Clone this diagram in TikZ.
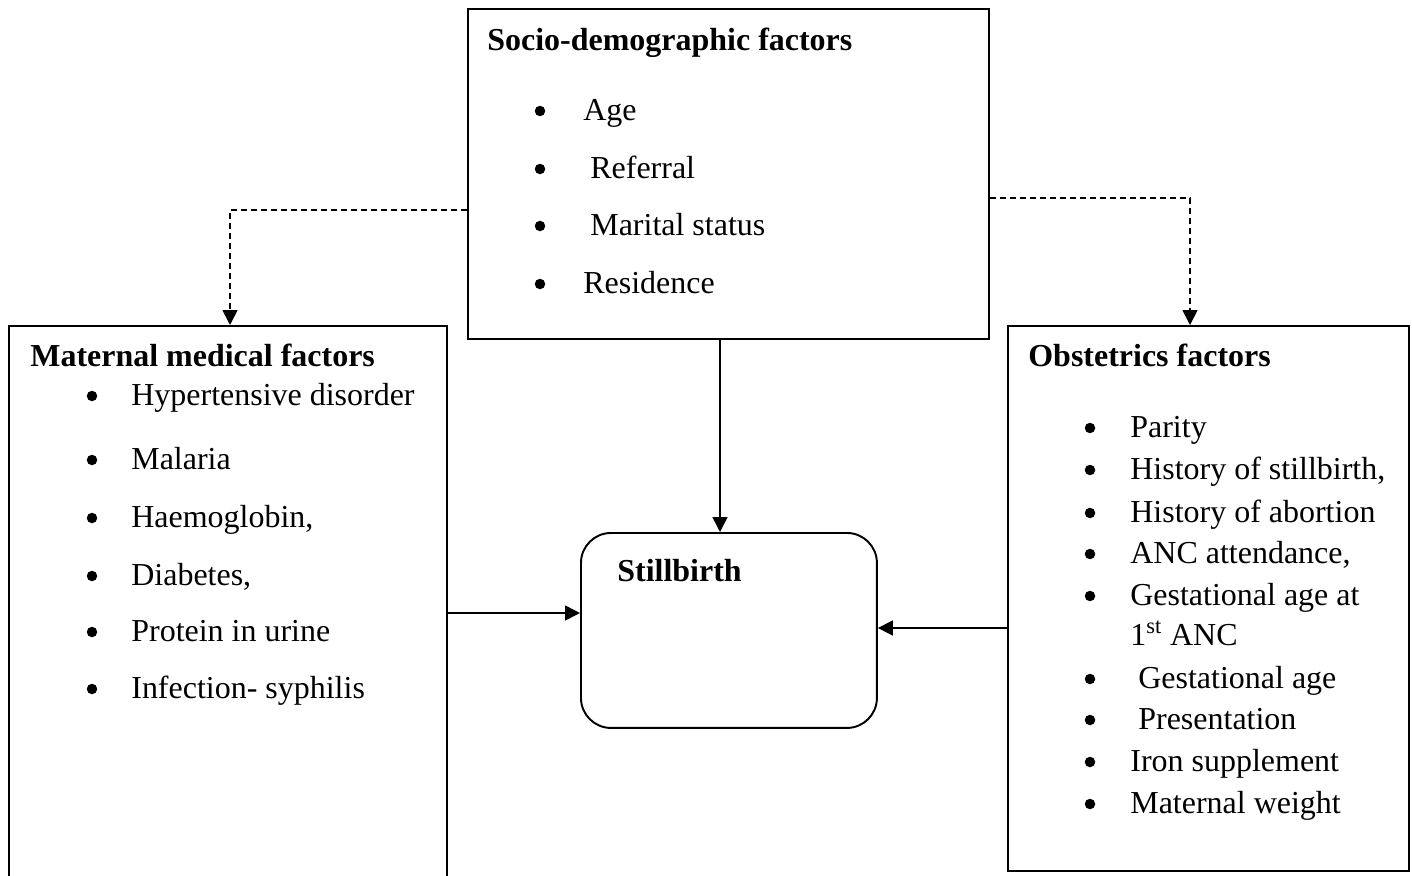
\documentclass[tikz,border=0pt]{standalone}
\usepackage{fontspec}
\setmainfont{Liberation Serif}
\usetikzlibrary{arrows.meta}
\begin{document}
\begin{tikzpicture}[x=0.02cm,y=-0.02cm,
 box/.style={draw,line width=1.1pt,inner sep=0pt,anchor=north west},
 txt/.style={anchor=base west,inner sep=0pt,font=\fontsize{18.2}{22}\selectfont},
 hd/.style={anchor=base west,inner sep=0pt,font=\fontsize{18.2}{22}\selectfont\bfseries},
 bul/.style={circle,fill,inner sep=0pt,minimum size=0.21cm},
 conn/.style={line width=0.9pt,-{Triangle[length=0.3cm,width=0.3cm]}},
 dconn/.style={conn,dash pattern=on 0.12cm off 0.08cm}]
\useasboundingbox (0,0) rectangle (1412,875);
\clip (0,0) rectangle (1412,875);

% boxes
\node[box,minimum width=10.42cm,minimum height=6.6cm] (soc) at (467,8) {};
\node[box,minimum width=8.76cm,minimum height=11.3cm] (mat) at (8,325) {};
\node[box,minimum width=8.02cm,minimum height=10.9cm] (obs) at (1007,325) {};
\node[box,rounded corners=0.6cm,minimum width=5.92cm,minimum height=3.9cm] (still) at (580,532) {};

% headings
\node[hd] (sochd) at (487,51) {Socio-demographic factors};
\node[hd] (mathd) at (30,366) {Maternal medical factors};
\node[hd] (obshd) at (1028,366) {Obstetrics factors};
\node[hd] (stillhd) at (617,581) {Stillbirth};

% socio-demographic items
\foreach \x/\y/\t [count=\i] in {583/120/Age, 590/178/Referral, 590/235/Marital status, 583/293/Residence}{
  \node[bul] (sb\i) at (540,\y-9) {};
  \node[txt] (st\i) at (\x,\y) {\t};
}
% maternal items
\foreach \y/\t [count=\i] in {405/Hypertensive disorder, 469/Malaria, 527/{Haemoglobin,}, 585/{Diabetes,}, 641/Protein in urine, 698/Infection- syphilis}{
  \node[bul] (mb\i) at (92,\y-9) {};
  \node[txt] (mt\i) at (131,\y) {\t};
}
% obstetric items
\foreach \x/\y/\t [count=\i] in {1130/437/Parity, 1130/479/{History of stillbirth,}, 1130/522/History of abortion, 1130/563/{ANC attendance,}, 1130/605/Gestational age at, 1138/688/Gestational age, 1138/729/Presentation, 1130/771/Iron supplement, 1130/813/Maternal weight}{
  \node[bul] (ob\i) at (1090,\y-9) {};
  \node[txt] (ot\i) at (\x,\y) {\t};
}
\node[txt] (otanc) at (1130,645) {1\textsuperscript{st} ANC};

% connectors
\coordinate (dl) at (230,210);
\coordinate (dr) at (1190,198);
\coordinate (dm) at (720,0);
\coordinate (hl) at (0,613);
\coordinate (hr) at (0,628);
\draw[dconn] (soc.west |- dl) -| (mat.north -| dl);
\draw[dconn] (soc.east |- dr) -| (obs.north -| dr);
\draw[conn] (soc.south -| dm) -- (still.north -| dm);
\draw[conn] (mat.east |- hl) -- (still.west |- hl);
\draw[conn] (obs.west |- hr) -- (still.east |- hr);
\end{tikzpicture}
\end{document}
